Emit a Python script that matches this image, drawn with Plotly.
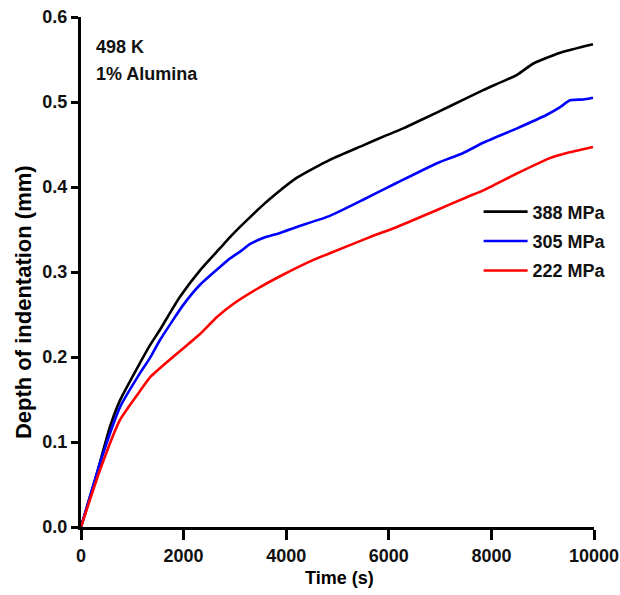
import plotly.graph_objects as go

series_names = ["388 MPa", "305 MPa", "222 MPa"]
time_s = {
    "388 MPa": [0, 273, 565, 760, 1150, 1345, 1540, 1735, 1930, 2320, 2710, 2905, 3100, 3550, 3820, 4210, 4850, 5500, 5960, 6280, 6670, 7190, 7840, 8500, 8810, 9340, 9980],
    "305 MPa": [0, 370, 760, 1150, 1345, 1540, 1990, 2320, 2710, 2905, 3100, 3300, 3550, 3880, 4210, 4850, 5500, 5960, 6160, 6940, 7450, 7840, 8500, 9080, 9340, 9530, 9790, 9980],
    "222 MPa": [0, 370, 760, 1150, 1345, 1735, 1990, 2320, 2650, 2960, 3430, 3880, 4520, 4850, 5630, 6160, 6940, 7520, 7840, 8500, 9140, 9470, 9980],
}
depth_mm = {
    "388 MPa": [0, 0.055, 0.118, 0.149, 0.193, 0.214, 0.232, 0.252, 0.271, 0.302, 0.328, 0.341, 0.353, 0.379, 0.393, 0.411, 0.432, 0.449, 0.461, 0.469, 0.480, 0.495, 0.514, 0.532, 0.545, 0.558, 0.568],
    "305 MPa": [0, 0.075, 0.141, 0.181, 0.199, 0.220, 0.261, 0.285, 0.306, 0.316, 0.324, 0.333, 0.340, 0.346, 0.353, 0.366, 0.385, 0.399, 0.405, 0.428, 0.440, 0.452, 0.469, 0.485, 0.494, 0.502, 0.503, 0.505],
    "222 MPa": [0, 0.067, 0.126, 0.160, 0.176, 0.197, 0.210, 0.227, 0.247, 0.262, 0.280, 0.295, 0.314, 0.322, 0.341, 0.353, 0.373, 0.388, 0.396, 0.416, 0.434, 0.440, 0.447],
}
colors = {"388 MPa": "#000000", "305 MPa": "#0000ff", "222 MPa": "#ff0000"}
x_ticks = [0, 2000, 4000, 6000, 8000, 10000]
x_tick_labels = ["0", "2000", "4000", "6000", "8000", "10000"]
y_ticks = [0.0, 0.1, 0.2, 0.3, 0.4, 0.5, 0.6]
y_tick_labels = ["0.0", "0.1", "0.2", "0.3", "0.4", "0.5", "0.6"]

FONT = "Liberation Sans, Arial, sans-serif"

fig = go.Figure()
for name in series_names:
    fig.add_trace(go.Scatter(
        x=time_s[name], y=depth_mm[name], mode="lines", name="<b>" + name + "</b>",
        legendgroup=name,
        line=dict(color=colors[name], width=2.6, shape="spline", smoothing=0.5),
    ))

axis_common = dict(
    showgrid=False, zeroline=False, showline=True, linecolor="black", linewidth=3,
    ticks="outside", tickcolor="black", tickwidth=2.5, automargin=False,
    tickfont=dict(family=FONT, size=18, color="#111111", weight="bold"),
)
fig.update_xaxes(range=[0, 10000], tickvals=x_ticks, ticktext=x_tick_labels, ticklen=10, **axis_common)
fig.update_yaxes(range=[0, 0.6], tickvals=y_ticks, ticktext=y_tick_labels, ticklen=7, **axis_common)

fig.add_annotation(xref="paper", yref="paper", x=0.503, y=-0.1, xanchor="center", yanchor="middle",
                   text="<b>Time (s)</b>", showarrow=False, font=dict(family=FONT, size=18, color="black"))
fig.add_annotation(xref="paper", yref="paper", x=-0.113, y=0.441, xanchor="center", yanchor="middle",
                   textangle=-90, text="<b>Depth of indentation (mm)</b>", showarrow=False,
                   font=dict(family=FONT, size=22, color="black"))

fig.add_annotation(xref="paper", yref="paper", x=0.025, y=0.941, xanchor="left", yanchor="middle",
                   text="<b>498 K</b>", showarrow=False, font=dict(family=FONT, size=18, color="#111111"))
fig.add_annotation(xref="paper", yref="paper", x=0.025, y=0.888, xanchor="left", yanchor="middle",
                   text="<b>1% Alumina</b>", showarrow=False, font=dict(family=FONT, size=18, color="#111111"))

fig.update_layout(
    width=620, height=595,
    margin=dict(l=81, r=26, t=17, b=68, autoexpand=False),
    plot_bgcolor="white", paper_bgcolor="white",
    legend=dict(x=0.775, y=0.654, xanchor="left", yanchor="top", bgcolor="rgba(0,0,0,0)",
                font=dict(family=FONT, size=18, color="#111111"), itemwidth=44,
                tracegroupgap=3),
    showlegend=True,
)

fig.write_html("out.html")
